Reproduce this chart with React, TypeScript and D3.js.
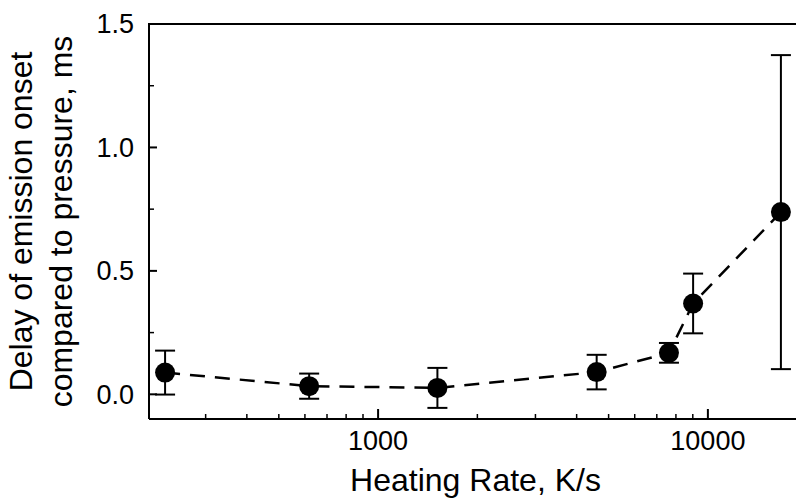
import React from "react";
import * as d3 from "d3";

// heating rate (K/s), delay (ms), error (ms)
const rates = [226, 618, 1513, 4600, 7620, 9020, 16650];
const delays = [0.088, 0.033, 0.026, 0.09, 0.168, 0.368, 0.738];
const errors = [0.089, 0.051, 0.081, 0.07, 0.04, 0.121, 0.636];

const yMajor = [0, 0.5, 1.0, 1.5];
const yMinor = [0.25, 0.75, 1.25];
const xMajor = [1000, 10000];

const W = 796, H = 499;
const FONT = "'Liberation Sans', Arial, sans-serif";

export default function App() {
  const x = d3.scaleLog().domain([202, 18500]).range([149, 796]);
  const y = d3.scaleLinear().domain([-0.1, 1.5]).range([419, 24]);
  const [x0, x1] = x.range();
  const [yb, yt] = y.range();

  const pts = rates.map((r, i) => ({ r, v: delays[i], e: errors[i] }));
  const line = d3.line<{ r: number; v: number }>()
    .x(d => x(d.r))
    .y(d => y(d.v));

  const xMinor = x.ticks().filter(t => !xMajor.includes(t));

  return (
    <svg width={W} height={H} style={{ position: "absolute", left: 0, top: 0, background: "#fff" }}>
      {/* axes + top frame */}
      <line x1={x0} x2={x1} y1={yb} y2={yb} stroke="#000" strokeWidth={2} />
      <line x1={x0} x2={x1} y1={yt} y2={yt} stroke="#000" strokeWidth={2} />
      <line x1={x0} x2={x0} y1={yb} y2={yt - 1} stroke="#000" strokeWidth={2} />
      {xMinor.map(t => (
        <line key={"xm" + t} x1={x(t)} x2={x(t)} y1={yb} y2={yb - 5} stroke="#000" strokeWidth={1.5} />
      ))}
      {xMajor.map(t => (
        <g key={"xM" + t}>
          <line x1={x(t)} x2={x(t)} y1={yb} y2={yb - 10} stroke="#000" strokeWidth={2} />
          <text x={x(t)} y={450} textAnchor="middle" fontSize={27} fontFamily={FONT}>{t}</text>
        </g>
      ))}
      {yMinor.map(t => (
        <line key={"ym" + t} x1={x0} x2={x0 + 5} y1={y(t)} y2={y(t)} stroke="#000" strokeWidth={1.5} />
      ))}
      {yMajor.map(t => (
        <g key={"yM" + t}>
          <line x1={x0} x2={x0 + 8} y1={y(t)} y2={y(t)} stroke="#000" strokeWidth={2} />
          <text x={134} y={y(t)} dy="0.35em" textAnchor="end" fontSize={27} fontFamily={FONT}>{t.toFixed(1)}</text>
        </g>
      ))}

      {/* titles */}
      <text x={(x0 + x1) / 2 + 3} y={491} textAnchor="middle" fontSize={32} fontFamily={FONT}>Heating Rate, K/s</text>
      <g transform={`translate(0, ${(yb + yt) / 2}) rotate(-90)`}>
        <text x={0} y={32} textAnchor="middle" fontSize={32} fontFamily={FONT}>Delay of emission onset</text>
        <text x={0} y={72} textAnchor="middle" fontSize={32} fontFamily={FONT}>compared to pressure, ms</text>
      </g>

      {/* data */}
      <path d={line(pts) ?? ""} fill="none" stroke="#000" strokeWidth={2.5} strokeDasharray="15,10" />
      {pts.map((d, i) => {
        const cx = x(d.r);
        return (
          <g key={"p" + i}>
            <line x1={cx} x2={cx} y1={y(d.v + d.e)} y2={y(d.v - d.e)} stroke="#000" strokeWidth={2} />
            <line x1={cx - 10} x2={cx + 10} y1={y(d.v + d.e)} y2={y(d.v + d.e)} stroke="#000" strokeWidth={2} />
            <line x1={cx - 10} x2={cx + 10} y1={y(d.v - d.e)} y2={y(d.v - d.e)} stroke="#000" strokeWidth={2} />
            <circle cx={cx} cy={y(d.v)} r={10} fill="#000" />
          </g>
        );
      })}
    </svg>
  );
}
